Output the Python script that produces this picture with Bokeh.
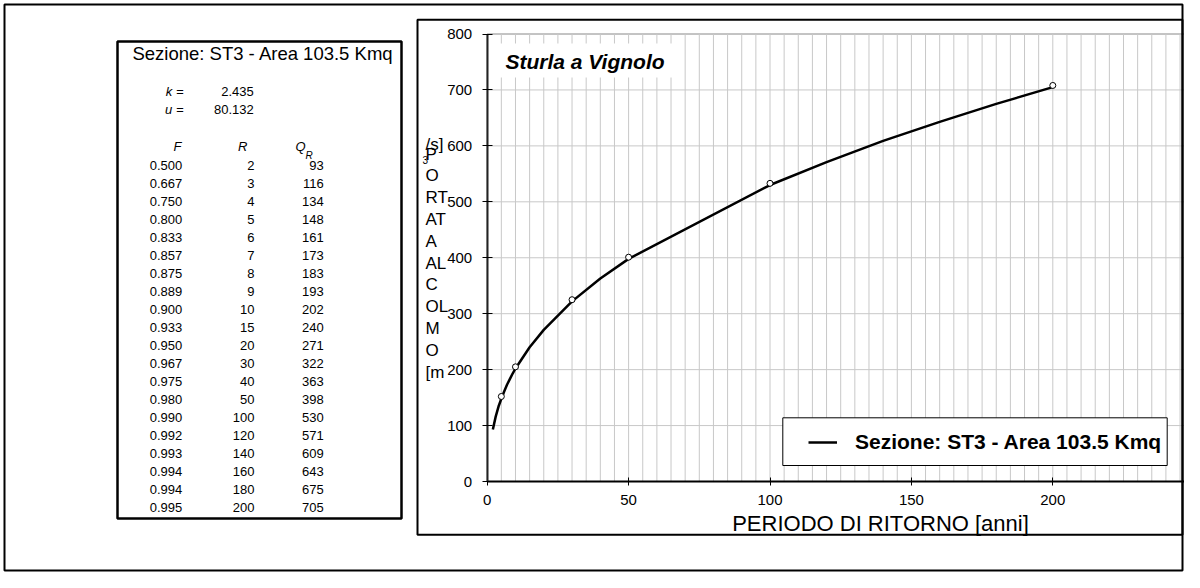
from bokeh.plotting import figure
from bokeh.models import (Range1d, FixedTicker, BoxAnnotation, Label, LabelSet, LinearAxis,
                          ColumnDataSource, Legend, LegendItem)
from bokeh.core.properties import value
from bokeh.embed import file_html
from bokeh.resources import INLINE

# ---------------- data ----------------
F_VALUES = [0.500, 0.667, 0.750, 0.800, 0.833, 0.857, 0.875, 0.889, 0.900, 0.933,
            0.950, 0.967, 0.975, 0.980, 0.990, 0.992, 0.993, 0.994, 0.994, 0.995]
R_VALUES = [2, 3, 4, 5, 6, 7, 8, 9, 10, 15, 20, 30, 40, 50, 100, 120, 140, 160, 180, 200]
Q_VALUES = [93, 116, 134, 148, 161, 173, 183, 193, 202, 240, 271, 322, 363, 398, 530,
            571, 609, 643, 675, 705]
MARK_R = [5, 10, 30, 50, 100, 200]
MARK_Q = [152, 205, 325, 401, 533, 708]
K_VALUE = "2.435"
U_VALUE = "80.132"
SECTION = "Sezione: ST3 - Area 103.5 Kmq"
TITLE = "Sturla a Vignolo"
X_TITLE = "PERIODO DI RITORNO [anni]"
Y_TITLE_LINES = ["P", "O", "RT", "AT", "A", "AL", "C", "OL", "M", "O", "[m"]
X_TICKS = [0, 50, 100, 150, 200, 250]
X_MINOR = list(range(0, 251, 5))
Y_TICKS = [0, 100, 200, 300, 400, 500, 600, 700, 800]
X_MAX, Y_MAX = 250, 800

FONT = "Liberation Sans"
GRID = "#c8c8c8"

# ---------------- layout (pixels) ----------------
W, H = 1184, 572
X0_PX, X50_PX = 486.7, 628.1     # where x=0 and x=50 fall
Y0_PX, Y800_PX = 481.0, 33.5     # where y=0 and y=800 fall
XS = (X50_PX - X0_PX) / 50.0
YS = (Y0_PX - Y800_PX) / Y_MAX

p = figure(width=W, height=H,
           x_range=Range1d(-X0_PX / XS, (W - X0_PX) / XS),
           y_range=Range1d(-(H - Y0_PX) / YS, Y0_PX / YS),
           x_axis_type=None, y_axis_type=None,
           output_backend="svg", toolbar_location=None,
           min_border_left=0, min_border_right=0, min_border_top=0, min_border_bottom=0)
p.background_fill_color = "white"
p.border_fill_color = "white"
p.outline_line_color = None

# pixel ranges for page decorations
p.extra_x_ranges = {"px": Range1d(0, W)}
p.extra_y_ranges = {"px": Range1d(H, 0)}

# grid lines from the tick arrays
p.segment(x0=X_MINOR, y0=0, x1=X_MINOR, y1=Y_MAX, line_color=GRID, line_width=1)
p.segment(x0=0, y0=Y_TICKS, x1=X_MAX, y1=Y_TICKS, line_color=GRID, line_width=1)
p.add_layout(BoxAnnotation(left=0, right=X_MAX, bottom=0, top=Y_MAX, fill_alpha=0,
                           line_color="#808080", line_alpha=1, line_width=1, level="underlay"))

# axes at x=0 / y=0
xa = LinearAxis(fixed_location=0, bounds=(0, X_MAX), ticker=FixedTicker(ticks=X_TICKS))
ya = LinearAxis(fixed_location=0, bounds=(0, Y_MAX), ticker=FixedTicker(ticks=Y_TICKS))
for ax, tin, tout, so in ((xa, 4, 4, 9), (ya, 5, 5, 10)):
    ax.major_tick_in = tin
    ax.major_tick_out = tout
    ax.minor_tick_in = 0
    ax.minor_tick_out = 0
    ax.major_label_standoff = so
    ax.major_label_text_font = FONT
    ax.major_label_text_font_size = "15px"
    ax.major_label_text_color = "black"
    ax.axis_line_width = 2
    ax.major_tick_line_color = "black"
xa.axis_line_color = "black"
ya.axis_line_color = "#222222"
p.add_layout(xa, "below")
p.add_layout(ya, "left")

# data
line_r = p.line(R_VALUES, Q_VALUES, line_color="black", line_width=2.5)
p.scatter(MARK_R, MARK_Q, marker="circle", size=6, fill_color="white",
          line_color="black", line_width=1)


def box(l, t, r, b, lw, fill=False):
    p.add_layout(BoxAnnotation(left=l, right=r, top=t, bottom=b,
                               x_range_name="px", y_range_name="px",
                               fill_color="white", fill_alpha=1 if fill else 0,
                               line_color="black", line_alpha=1 if lw else 0,
                               line_width=lw if lw else 1))


def label(x, y, text, size, align="left", style="normal"):
    # y is the vertical centre of the capital letters
    p.add_layout(Label(x=x, y=y, x_range_name="px", y_range_name="px", text=text,
                       text_font=FONT, text_font_size=size, text_font_style=style,
                       text_align=align, text_baseline="middle", text_color="black"))


# outer frame, chart box, table box
box(4, 4, 1182, 570, 2)
box(417, 19.3, 1182, 534.3, 2)
box(117, 41, 401, 518, 2.5)

# title with white background
box(497, 43, 674, 77, 0, fill=True)
label(505, 61.2, TITLE, "21px", style="bold italic")

# legend box + legend
box(782.3, 417.3, 1166.7, 465, 1, fill=True)
legend = Legend(items=[LegendItem(label=SECTION, renderers=[line_r])],
                location=(808, 118), padding=0, margin=0, spacing=0,
                glyph_width=29, glyph_height=20, label_standoff=18,
                label_text_font=FONT, label_text_font_size="21px",
                label_text_font_style="bold", label_text_color="black",
                border_line_alpha=0, background_fill_alpha=0)
p.add_layout(legend)

# axis titles
label(880, 522.5, X_TITLE, "22px", align="center")
for j, t in enumerate(Y_TITLE_LINES):
    label(425, 153.5 + 21.8 * j, t, "17px")
label(425, 144, "/s]", "17px")
label(422, 159.5, "3", "10px")

# table
label(262.5, 52.5, SECTION, "18.5px", align="center")
label(183, 90.8, "k =", "13px", align="right", style="italic")
label(253.3, 90.8, K_VALUE, "13px", align="right")
label(183, 108.8, "u =", "13px", align="right", style="italic")
label(253.3, 108.8, U_VALUE, "13px", align="right")
label(181, 146.3, "F", "13px", align="right", style="italic")
label(247, 146.3, "R", "13px", align="right", style="italic")
label(295, 146.3, "Q", "13px", style="italic")
label(305, 154.5, "R", "10px", style="italic")

n = len(F_VALUES)
src = ColumnDataSource(dict(
    fx=[181.7] * n, rx=[254] * n, qx=[323.3] * n,
    y=[165.3 + 18 * i for i in range(n)],
    ft=["%.3f" % v for v in F_VALUES],
    rt=[str(v) for v in R_VALUES],
    qt=[str(v) for v in Q_VALUES],
))
for xf, tf in (("fx", "ft"), ("rx", "rt"), ("qx", "qt")):
    p.add_layout(LabelSet(x=xf, y="y", text=tf, source=src,
                          x_range_name="px", y_range_name="px",
                          text_font=value(FONT), text_font_size=value("13px"),
                          text_align="right", text_baseline="middle",
                          text_color="black"))

open("out.html", "w").write(file_html(p, INLINE))
